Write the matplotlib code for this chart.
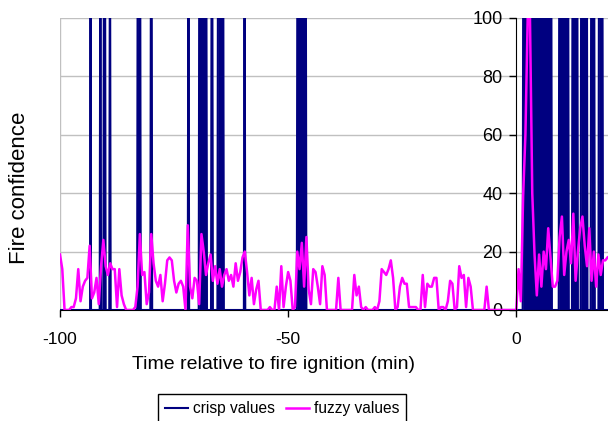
import matplotlib
matplotlib.use('Agg')
import matplotlib.pyplot as plt
import numpy as np

plt.rcParams['font.family'] = ['Liberation Sans', 'DejaVu Sans']
plt.rcParams['axes.unicode_minus'] = False

# intervals (min) where the crisp value is 100
crisp_on = [
    (-93.35, -93.25), (-91.2, -91.1), (-90.4, -90.1), (-89.1, -89.0),
    (-83.0, -82.4), (-80.1, -79.9), (-71.9, -71.8), (-69.5, -67.9),
    (-66.8, -66.6), (-65.4, -64.2), (-59.6, -59.5), (-48.0, -46.1),
    (1.45, 7.75), (9.35, 11.4), (12.25, 13.45), (14.2, 15.5),
    (16.4, 17.1), (18.1, 18.9),
]

# fuzzy values, one every 0.5 min from -100 to 20
fuzzy = [
    19, 14, 0, 0, 0, 1, 1, 4, 14, 3,
    8, 10, 11, 22, 4, 6, 11, 2, 15, 24,
    15, 12, 16, 14, 14, 1, 14, 5, 2, 0,
    0, 0, 0, 1, 8, 26, 12, 13, 2, 6,
    26, 16, 10, 8, 12, 3, 9, 17, 18, 17,
    10, 6, 9, 10, 8, 0, 29, 8, 4, 11,
    10, 2, 26, 20, 12, 16, 19, 10, 15, 9,
    14, 8, 12, 14, 10, 12, 8, 16, 10, 13,
    18, 20, 13, 5, 11, 2, 7, 10, 0, 0,
    0, 0, 1, 0, 0, 8, 0, 15, 1, 8,
    13, 10, 0, 1, 20, 14, 23, 8, 25, 7,
    2, 14, 13, 8, 2, 15, 12, 0, 0, 0,
    0, 0, 11, 0, 0, 0, 0, 0, 0, 12,
    5, 8, 1, 0, 1, 0, 0, 0, 1, 0,
    3, 14, 13, 12, 14, 17, 11, 0, 1, 8,
    11, 9, 9, 1, 1, 1, 1, 0, 0, 12,
    1, 9, 8, 8, 11, 11, 0, 1, 1, 0,
    3, 10, 9, 0, 1, 15, 11, 12, 1, 11,
    8, 0, 0, 0, 0, 0, 0, 8, 0, 0,
    0, 0, 0, 0, 0, 0, 0, 0, 0, 0,
    0, 14, 3, 39, 60, 100, 100, 40, 19, 5,
    19, 8, 20, 14, 28, 18, 8, 8, 10, 25,
    32, 12, 20, 24, 16, 33, 10, 20, 28, 32,
    22, 15, 28, 10, 20, 8, 19, 12, 17, 17,
    18,
]
fuzzy_t = np.arange(-100, 20.5, 0.5)

crisp_t = np.round(np.arange(-1000, 201) / 10, 1)
crisp = np.zeros(len(crisp_t))
for a, b in crisp_on:
    crisp[(crisp_t >= a - 1e-9) & (crisp_t <= b + 1e-9)] = 100

fig = plt.figure(figsize=(6.08, 4.21), dpi=100)
ax = fig.add_axes([60 / 608, 1 - 310 / 421, 548 / 608, 292 / 421])

# the crisp series toggles very fast, so its bursts read as solid blocks
ax.fill_between(crisp_t, 0, crisp, color='#000080', lw=0, zorder=2)
l1, = ax.plot(crisp_t, crisp, color='#000080', lw=1.5, label='crisp values', zorder=2)
l2, = ax.plot(fuzzy_t, fuzzy, color='#ff00ff', lw=1.8, label='fuzzy values', zorder=2.5)

ax.set_xlim(-100, 20.1)
ax.set_ylim(0, 100)
ax.set_xticks([-100, -50, 0])
ax.set_yticks(range(0, 101, 20))
ax.yaxis.grid(True, color='#c0c0c0', lw=1)
ax.set_axisbelow(True)
ax.axvline(-100, color='#c0c0c0', lw=1, zorder=0.5)

ax.spines['right'].set_color('none')
ax.spines['top'].set_color('none')
ax.spines['left'].set_position(('data', 0))
ax.spines['left'].set_zorder(3)
ax.tick_params(axis='both', direction='out', length=5, width=1)
ax.tick_params(axis='x', labelsize=12.5, pad=11)
ax.tick_params(axis='y', labelsize=13, pad=5)

ax.set_xlabel('Time relative to fire ignition (min)', fontsize=14)
ax.xaxis.set_label_coords(0.389, -0.158)
ax.set_ylabel('Fire confidence', fontsize=16)
ax.yaxis.set_label_coords(-0.054, 0.42)

fig.legend(handles=[l1, l2], loc='upper left', bbox_to_anchor=(158 / 608, 1 - 394 / 421),
           ncol=2, frameon=True, fancybox=False, edgecolor='black', framealpha=1,
           fontsize=11.2, handlelength=1.5, handletextpad=0.3, columnspacing=0.7,
           borderpad=0.45, borderaxespad=0)

fig.savefig('out.png', dpi=100)
